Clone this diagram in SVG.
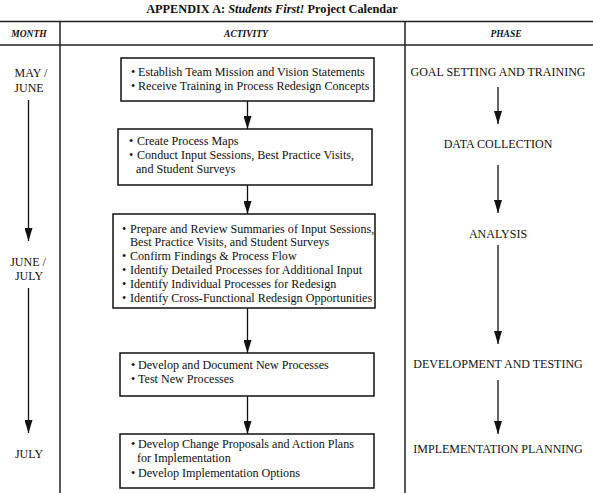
<svg xmlns="http://www.w3.org/2000/svg" width="593" height="493" viewBox="0 0 593 493">
<defs>
<marker id="ah" viewBox="0 0 13 8" refX="13" refY="4" markerWidth="13" markerHeight="8" markerUnits="userSpaceOnUse" orient="auto">
<path d="M0,0 L13,4 L0,8 z" fill="#111"/>
</marker>
<style>
text{font-family:"Liberation Serif","Times New Roman",serif;fill:#111}
.title{font-size:12.3px;font-weight:bold}
.hdr{font-size:9.5px;font-weight:bold;font-style:italic;text-anchor:middle}
.box{fill:#fff;stroke:#111;stroke-width:1.5}
.bt{font-size:12.1px}
.lbl{font-size:12px;text-anchor:middle}
.rule{stroke:#222;stroke-width:1.5;fill:none}
.conn line{stroke:#111;stroke-width:1.3;marker-end:url(#ah)}
</style>
</defs>
<rect width="593" height="493" fill="#fff"/>
<text class="title" x="272" y="13" text-anchor="middle">APPENDIX A: <tspan font-style="italic">Students First!</tspan> Project Calendar</text>
<g id="table">
<line class="rule" x1="0" y1="21.5" x2="593" y2="21.5" stroke-width="2"/>
<line class="rule" x1="0" y1="45" x2="593" y2="45"/>
<line class="rule" x1="60" y1="21" x2="60" y2="493"/>
<line class="rule" x1="405" y1="21" x2="405" y2="493"/>
<text class="hdr" x="29" y="37">MONTH</text>
<text class="hdr" x="246" y="37">ACTIVITY</text>
<text class="hdr" x="506" y="37">PHASE</text>
</g>
<g id="months">
<text class="lbl" x="31" y="77">MAY /</text>
<text class="lbl" x="29" y="92">JUNE</text>
<text class="lbl" x="28" y="266">JUNE /</text>
<text class="lbl" x="29" y="280">JULY</text>
<text class="lbl" x="29" y="458">JULY</text>
</g>
<g id="box1">
<rect class="box" x="121" y="58" width="253" height="43"/>
<text class="bt" x="131" y="76">•</text><text class="bt" x="138" y="76">Establish Team Mission and Vision Statements</text>
<text class="bt" x="131" y="90">•</text><text class="bt" x="138" y="90">Receive Training in Process Redesign Concepts</text>
</g>
<g id="box2">
<rect class="box" x="118" y="129" width="254" height="56"/>
<text class="bt" x="129" y="145">•</text><text class="bt" x="137" y="145">Create Process Maps</text>
<text class="bt" x="129" y="159">•</text><text class="bt" x="137" y="159">Conduct Input Sessions, Best Practice Visits,</text>
<text class="bt" x="136" y="173">and Student Surveys</text>
</g>
<g id="box3">
<rect class="box" x="113" y="214" width="262" height="94"/>
<text class="bt" x="122" y="233">•</text><text class="bt" x="130" y="233">Prepare and Review Summaries of Input Sessions,</text>
<text class="bt" x="130" y="246">Best Practice Visits, and Student Surveys</text>
<text class="bt" x="122" y="260">•</text><text class="bt" x="130" y="260">Confirm Findings &amp; Process Flow</text>
<text class="bt" x="122" y="274">•</text><text class="bt" x="130" y="274">Identify Detailed Processes for Additional Input</text>
<text class="bt" x="122" y="288">•</text><text class="bt" x="130" y="288">Identify Individual Processes for Redesign</text>
<text class="bt" x="122" y="302">•</text><text class="bt" x="130" y="302">Identify Cross-Functional Redesign Opportunities</text>
</g>
<g id="box4">
<rect class="box" x="120" y="353" width="254" height="43"/>
<text class="bt" x="131" y="369">•</text><text class="bt" x="138" y="369">Develop and Document New Processes</text>
<text class="bt" x="131" y="383">•</text><text class="bt" x="138" y="383">Test New Processes</text>
</g>
<g id="box5">
<rect class="box" x="120" y="434" width="254" height="54"/>
<text class="bt" x="131" y="448">•</text><text class="bt" x="138" y="448">Develop Change Proposals and Action Plans</text>
<text class="bt" x="137" y="462">for Implementation</text>
<text class="bt" x="131" y="477">•</text><text class="bt" x="138" y="477">Develop Implementation Options</text>
</g>
<g id="phases">
<text class="lbl" x="498" y="76">GOAL SETTING AND TRAINING</text>
<text class="lbl" x="498" y="148">DATA COLLECTION</text>
<text class="lbl" x="498" y="238">ANALYSIS</text>
<text class="lbl" x="498" y="368">DEVELOPMENT AND TESTING</text>
<text class="lbl" x="498" y="453">IMPLEMENTATION PLANNING</text>
</g>
<g id="connectors" class="conn">
<line x1="247.5" y1="101" x2="247.5" y2="129"/>
<line x1="247.5" y1="185" x2="247.5" y2="214"/>
<line x1="247.5" y1="308" x2="247.5" y2="353"/>
<line x1="247.5" y1="396" x2="247.5" y2="434"/>
<line x1="28.5" y1="100" x2="28.5" y2="241"/>
<line x1="28.5" y1="288" x2="28.5" y2="433"/>
<line x1="498" y1="87" x2="498" y2="124"/>
<line x1="498" y1="165" x2="498" y2="213"/>
<line x1="498" y1="245" x2="498" y2="344"/>
<line x1="498" y1="380" x2="498" y2="434"/>
</g>
</svg>
